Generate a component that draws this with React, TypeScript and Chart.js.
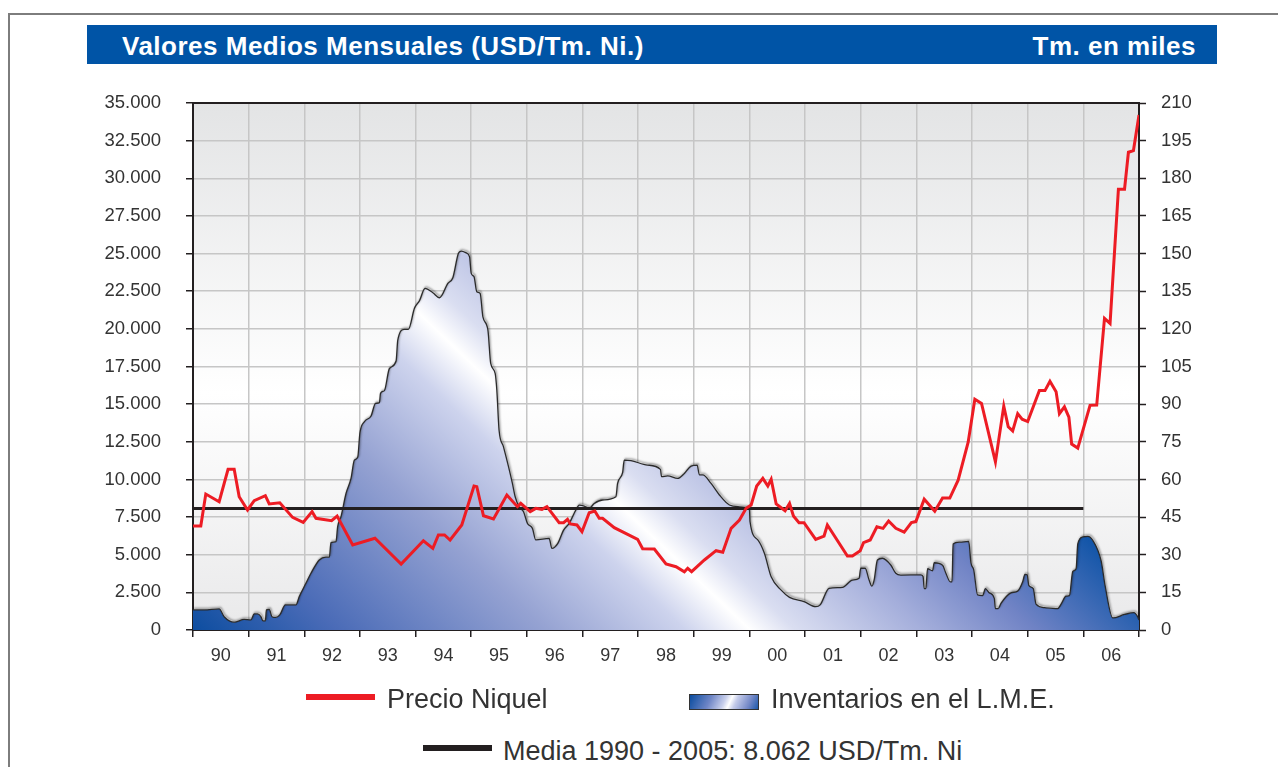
import React, { useEffect, useRef } from 'react';
import { Chart, registerables } from 'chart.js';

Chart.register(...registerables);

// ---------- DATA ----------
const priceYears = [
  1990.0, 1990.14, 1990.23, 1990.47, 1990.63, 1990.74, 1990.83, 1990.98, 1991.1, 1991.3, 1991.37, 1991.56,
  1991.79, 1991.98, 1992.14, 1992.21, 1992.49, 1992.59, 1992.87, 1993.27, 1993.74, 1994.14, 1994.31, 1994.41,
  1994.52, 1994.62, 1994.83, 1995.05, 1995.1, 1995.22, 1995.4, 1995.64, 1995.83, 1995.89, 1996.06, 1996.16,
  1996.27, 1996.36, 1996.58, 1996.66, 1996.73, 1996.78, 1996.9, 1996.99, 1997.12, 1997.22, 1997.3, 1997.36,
  1997.57, 1997.99, 1998.08, 1998.29, 1998.5, 1998.68, 1998.83, 1998.89, 1998.96, 1999.19, 1999.4, 1999.52,
  1999.67, 1999.82, 1999.94, 2000.03, 2000.13, 2000.24, 2000.33, 2000.39, 2000.48, 2000.64, 2000.72, 2000.79,
  2000.89, 2000.98, 2001.19, 2001.34, 2001.4, 2001.76, 2001.85, 2001.99, 2002.05, 2002.17, 2002.29, 2002.4,
  2002.5, 2002.63, 2002.78, 2002.91, 2002.99, 2003.14, 2003.33, 2003.47, 2003.6, 2003.75, 2003.93, 2004.05,
  2004.17, 2004.42, 2004.57, 2004.65, 2004.73, 2004.82, 2004.9, 2005.0, 2005.21, 2005.31, 2005.4, 2005.51,
  2005.57, 2005.66, 2005.74, 2005.79, 2005.9, 2006.12, 2006.24, 2006.38, 2006.48, 2006.63, 2006.74, 2006.81,
  2006.9, 2007.0,
];
const priceValues = [
  6900, 6900, 9030, 8520, 10670, 10670, 8850, 7970, 8590, 8920, 8370, 8450,
  7480, 7150, 7860, 7420, 7260, 7570, 5645, 6090, 4383, 5930, 5425, 6310,
  6310, 5977, 6973, 9563, 9520, 7590, 7370, 8965, 8190, 8410, 7860, 8080,
  8015, 8190, 7126, 7126, 7350, 7040, 6973, 6530, 7790, 7900, 7418, 7418,
  6794, 6023, 5400, 5380, 4383, 4205, 3870, 4097, 3870, 4650, 5268, 5160,
  6750, 7300, 8080, 8300, 9563, 10070, 9563, 10007, 8370, 7920, 8410, 7570,
  7126, 7126, 6023, 6240, 6973, 4914, 4914, 5268, 5800, 5977, 6860, 6750,
  7240, 6750, 6500, 7140, 7200, 8690, 7890, 8760, 8760, 9950, 12470, 15330,
  15050, 11160, 14870, 13500, 13220, 14370, 14000, 13840, 15900, 15900, 16520, 15830,
  14370, 14820, 14140, 12350, 12080, 14920, 14940, 20700, 20360, 29280, 29280, 31730,
  31840, 34200,
];

const stockYears = [
  1990.0, 1990.2, 1990.47, 1990.56, 1990.74, 1990.92, 1991.04, 1991.1, 1991.16, 1991.22, 1991.26, 1991.3,
  1991.32, 1991.37, 1991.42, 1991.49, 1991.56, 1991.66, 1991.85, 1991.91, 1992.03, 1992.12, 1992.27, 1992.39,
  1992.45, 1992.48, 1992.57, 1992.6, 1992.66, 1992.75, 1992.84, 1992.9, 1992.96, 1993.0, 1993.08, 1993.2,
  1993.28, 1993.35, 1993.37, 1993.44, 1993.53, 1993.65, 1993.68, 1993.8, 1993.87, 1993.98, 1994.07, 1994.17,
  1994.31, 1994.43, 1994.58, 1994.67, 1994.77, 1994.82, 1994.91, 1994.97, 1995.0, 1995.05, 1995.1, 1995.16,
  1995.21, 1995.3, 1995.35, 1995.43, 1995.46, 1995.5, 1995.58, 1995.67, 1995.74, 1995.79, 1995.86, 1995.94,
  1996.01, 1996.1, 1996.16, 1996.4, 1996.45, 1996.55, 1996.66, 1996.76, 1996.88, 1996.94, 1997.03, 1997.12,
  1997.21, 1997.36, 1997.6, 1997.63, 1997.72, 1997.75, 1997.87, 1998.17, 1998.4, 1998.42, 1998.53, 1998.71,
  1998.83, 1998.95, 1999.06, 1999.1, 1999.16, 1999.31, 1999.46, 1999.64, 1999.82, 1999.94, 2000.0, 2000.01,
  2000.15, 2000.27, 2000.39, 2000.57, 2000.72, 2000.98, 2001.19, 2001.27, 2001.43, 2001.67, 2001.85, 2001.97,
  2002.0, 2002.08, 2002.15, 2002.2, 2002.24, 2002.3, 2002.39, 2002.54, 2002.63, 2002.72, 2003.08, 2003.12,
  2003.14, 2003.17, 2003.2, 2003.29, 2003.32, 2003.47, 2003.53, 2003.61, 2003.64, 2003.66, 2003.77, 2003.94,
  2003.98, 2004.03, 2004.1, 2004.19, 2004.24, 2004.31, 2004.4, 2004.42, 2004.47, 2004.52, 2004.7, 2004.82,
  2004.91, 2004.95, 2004.99, 2005.02, 2005.1, 2005.15, 2005.3, 2005.54, 2005.6, 2005.69, 2005.75, 2005.81,
  2005.87, 2005.9, 2005.99, 2006.08, 2006.17, 2006.32, 2006.39, 2006.53, 2006.74, 2006.91, 2006.97, 2007.0,
];
const stockValues = [
  8.0, 8.0, 8.4, 5.3, 3.1, 4.2, 4.0, 6.4, 6.4, 5.3, 3.6, 3.6,
  8.0, 8.2, 5.3, 5.0, 6.0, 10.0, 10.0, 13.3, 18.6, 22.6, 27.9, 29.0,
  29.0, 34.8, 35.2, 41.2, 45.2, 54.4, 60.4, 67.7, 68.8, 78.6, 83.0, 85.3,
  90.3, 90.6, 94.3, 95.4, 104.2, 107.2, 115.5, 119.8, 119.8, 128.2, 131.2, 136.1,
  134.4, 132.4, 138.1, 140.4, 150.1, 151.0, 150.3, 148.7, 142.1, 140.8, 134.8, 134.1,
  124.8, 119.5, 106.2, 102.3, 95.6, 79.7, 73.0, 65.1, 58.4, 53.1, 49.1, 47.1,
  42.5, 40.5, 35.9, 36.5, 32.5, 34.3, 39.8, 42.5, 47.8, 49.8, 49.4, 48.5,
  50.4, 51.8, 53.1, 58.4, 62.7, 67.7, 67.5, 65.7, 64.0, 61.1, 61.4, 60.4,
  62.4, 65.3, 65.7, 61.8, 61.8, 58.4, 53.8, 49.8, 49.1, 48.9, 47.8, 43.2,
  35.9, 30.5, 21.2, 15.9, 13.0, 11.3, 9.3, 10.0, 16.6, 17.0, 19.9, 20.6,
  24.6, 24.6, 19.9, 17.5, 19.9, 27.9, 28.6, 25.9, 22.6, 21.9, 22.0, 21.3,
  16.5, 16.5, 24.4, 23.6, 26.8, 25.8, 22.6, 19.2, 19.2, 34.3, 35.0, 35.3,
  26.8, 24.0, 14.0, 13.7, 16.5, 14.8, 12.6, 8.5, 8.5, 10.6, 14.8, 15.5,
  19.2, 22.2, 22.0, 17.8, 16.5, 10.3, 8.9, 8.5, 10.3, 13.5, 13.7, 23.3,
  24.4, 34.3, 37.1, 37.3, 35.7, 27.5, 17.8, 4.8, 6.2, 6.9, 5.5, 4.0,
];

const meanYears = [1990, 2006];
const meanValue = 8062;

const yearBoundaries = [
  1990, 1991, 1992, 1993, 1994, 1995, 1996, 1997, 1998, 1999, 2000, 2001, 2002, 2003, 2004, 2005, 2006, 2007,
];
const yearLabels = ['90', '91', '92', '93', '94', '95', '96', '97', '98', '99', '00', '01', '02', '03', '04', '05', '06'];
const yearLabelPositions = [
  1990.5, 1991.5, 1992.5, 1993.5, 1994.5, 1995.5, 1996.5, 1997.5, 1998.5, 1999.5, 2000.5, 2001.5, 2002.5,
  2003.5, 2004.5, 2005.5, 2006.5,
];

const titleText = 'Valores Medios Mensuales (USD/Tm. Ni.)';
const unitText = 'Tm. en miles';
const legendPrice = 'Precio Niquel';
const legendStock = 'Inventarios en el L.M.E.';
const legendMean = 'Media 1990 - 2005: 8.062 USD/Tm. Ni';

// ---------- STYLE ----------
const FONT = "'Liberation Sans', Arial, Helvetica, sans-serif";
const RED = '#ed1c24';
const DARK = '#231f20';
const GRID = '#c6c6c6';

const fmtThousands = (v: number) => {
  const s = Math.round(v).toString();
  return s.replace(/\B(?=(\d{3})+(?!\d))/g, '.');
};

const zeroPad = (s: any) => {
  s.paddingTop = 0;
  s.paddingBottom = 0;
  s.paddingLeft = 0;
  s.paddingRight = 0;
};

const plotPlugin = {
  id: 'plotDecor',
  beforeDraw(chart: any) {
    const { ctx, chartArea: a } = chart;
    if (!a) return;
    const g = ctx.createLinearGradient(0, a.top, 0, a.bottom);
    g.addColorStop(0, '#e3e4e5');
    g.addColorStop(0.55, '#ffffff');
    g.addColorStop(1, '#e9e9ea');
    ctx.save();
    ctx.fillStyle = g;
    ctx.fillRect(a.left, a.top, a.width, a.height);
    ctx.restore();
  },
  beforeDatasetDraw(chart: any, args: any) {
    if (args.index !== 2) return;
    const ctx = chart.ctx;
    ctx.save();
    ctx.shadowColor = 'rgba(0,0,0,0.45)';
    ctx.shadowBlur = 2;
    ctx.shadowOffsetX = 1;
    ctx.shadowOffsetY = -1.5;
  },
  afterDatasetDraw(chart: any, args: any) {
    if (args.index !== 2) return;
    chart.ctx.restore();
  },
  afterDraw(chart: any) {
    const { ctx, chartArea: a } = chart;
    if (!a) return;
    ctx.save();
    ctx.strokeStyle = DARK;
    ctx.lineWidth = 2;
    ctx.beginPath();
    ctx.moveTo(a.left, a.top);
    ctx.lineTo(a.right, a.top);
    ctx.stroke();
    ctx.restore();
  },
};

const areaFill = (c: any) => {
  const chart = c.chart;
  const a = chart.chartArea;
  if (!a) return 'rgba(90,115,190,0.9)';
  const w = a.right - a.left;
  const h = a.bottom - a.top;
  const g = chart.ctx.createLinearGradient(a.left - 0.042 * w, a.top + 0.941 * h, a.left + 0.462 * w, a.top - 0.006 * h);
  g.addColorStop(0, '#0a4c9f');
  g.addColorStop(0.15, '#4a6bb7');
  g.addColorStop(0.36, '#95a2d2');
  g.addColorStop(0.5, '#cdd3ed');
  g.addColorStop(0.565, '#ffffff');
  g.addColorStop(0.61, '#dadef1');
  g.addColorStop(0.74, '#a4aedb');
  g.addColorStop(0.85, '#7083c5');
  g.addColorStop(1, '#1255a8');
  return g;
};

function NickelChart() {
  const ref = useRef<HTMLCanvasElement | null>(null);
  useEffect(() => {
    if (!ref.current) return;
    const priceData = priceYears.map((x, i) => ({ x, y: priceValues[i] }));
    const stockData = stockYears.map((x, i) => ({ x, y: stockValues[i] }));
    const meanData = meanYears.map((x) => ({ x, y: meanValue }));
    const xTicks = [...yearBoundaries, ...yearLabelPositions].sort((p, q) => p - q);

    const chart = new Chart(ref.current, {
      type: 'line',
      data: {
        datasets: [
          {
            label: legendPrice,
            data: priceData,
            yAxisID: 'y',
            borderColor: RED,
            borderWidth: 3,
            pointRadius: 0,
            tension: 0,
            fill: false,
          },
          {
            label: legendMean,
            data: meanData,
            yAxisID: 'y',
            borderColor: DARK,
            borderWidth: 3,
            pointRadius: 0,
            fill: false,
          },
          {
            label: legendStock,
            data: stockData,
            yAxisID: 'y1',
            borderColor: '#2b2b2b',
            borderWidth: 1.3,
            pointRadius: 0,
            cubicInterpolationMode: 'monotone',
            fill: 'origin',
            backgroundColor: areaFill,
          },
        ],
      },
      options: {
        animation: false,
        responsive: false,
        events: [],
        layout: { padding: { top: 23, left: 0, right: 0, bottom: 0 } },
        plugins: {
          legend: { display: false },
          title: { display: false },
          tooltip: { enabled: false },
        },
        scales: {
          x: {
            type: 'linear',
            position: 'bottom',
            min: 1990,
            max: 2007,
            afterBuildTicks: (s: any) => {
              s.ticks = xTicks.map((v) => ({ value: v }));
            },
            afterFit: (s: any) => {
              s.height = 60;
              zeroPad(s);
            },
            grid: {
              color: (c: any) => (c.tick && Number.isInteger(c.tick.value) ? GRID : 'rgba(0,0,0,0)'),
              tickColor: (c: any) => (c.tick && Number.isInteger(c.tick.value) ? DARK : 'rgba(0,0,0,0)'),
              lineWidth: 1.5,
              tickLength: 7,
              tickWidth: 1.5,
            },
            border: { display: true, color: DARK, width: 2 },
            ticks: {
              autoSkip: false,
              maxRotation: 0,
              minRotation: 0,
              padding: 8,
              color: '#333',
              font: { family: FONT, size: 18 },
              callback: (v: any) => {
                const i = yearLabelPositions.indexOf(Number(v));
                return i >= 0 ? yearLabels[i] : '';
              },
            },
          },
          y: {
            type: 'linear',
            position: 'left',
            min: 0,
            max: 35000,
            afterFit: (s: any) => {
              s.width = 193;
              zeroPad(s);
            },
            grid: { color: GRID, lineWidth: 1.5, tickColor: DARK, tickLength: 7, tickWidth: 1.5 },
            border: { display: true, color: DARK, width: 2 },
            ticks: {
              stepSize: 2500,
              padding: 25,
              color: '#333',
              font: { family: FONT, size: 18.5 },
              callback: (v: any) => fmtThousands(Number(v)),
            },
          },
          y1: {
            type: 'linear',
            position: 'right',
            min: 0,
            max: 210,
            afterFit: (s: any) => {
              s.width = 139;
              zeroPad(s);
            },
            grid: { drawOnChartArea: false, color: DARK, tickColor: DARK, tickLength: 7, tickWidth: 1.5 },
            border: { display: true, color: DARK, width: 2 },
            ticks: {
              stepSize: 15,
              padding: 15,
              color: '#333',
              font: { family: FONT, size: 18.5 },
            },
          },
        },
      },
      plugins: [plotPlugin],
    } as any);
    return () => chart.destroy();
  }, []);
  return (
    <canvas
      ref={ref}
      width={1278}
      height={610}
      style={{ position: 'absolute', left: 0, top: 80, width: 1278, height: 610 }}
    />
  );
}

export default function App() {
  const legendText: React.CSSProperties = {
    position: 'absolute',
    fontFamily: FONT,
    fontSize: 27,
    lineHeight: '30px',
    color: '#333',
    whiteSpace: 'nowrap',
  };
  return (
    <div
      style={{
        position: 'absolute',
        left: 0,
        top: 0,
        width: 1278,
        height: 767,
        overflow: 'hidden',
        background: '#ffffff',
        fontFamily: FONT,
      }}
    >
      <div
        style={{
          position: 'absolute',
          left: 8,
          top: 13,
          width: 1400,
          height: 900,
          borderTop: '2px solid #7d7d7d',
          borderLeft: '2px solid #7d7d7d',
        }}
      />
      <div
        style={{
          position: 'absolute',
          left: 87,
          top: 25,
          width: 1130,
          height: 39,
          background: '#0054a6',
        }}
      />
      <div
        style={{
          position: 'absolute',
          left: 122,
          top: 31,
          color: '#fff',
          fontWeight: 'bold',
          fontSize: 26,
          lineHeight: '30px',
          letterSpacing: '0.5px',
          whiteSpace: 'nowrap',
        }}
      >
        {titleText}
      </div>
      <div
        style={{
          position: 'absolute',
          right: 82,
          top: 31,
          color: '#fff',
          fontWeight: 'bold',
          fontSize: 26,
          lineHeight: '30px',
          letterSpacing: '0.5px',
          whiteSpace: 'nowrap',
        }}
      >
        {unitText}
      </div>
      <NickelChart />
      {/* Legend */}
      <div style={{ position: 'absolute', left: 306, top: 694, width: 69, height: 6, background: RED }} />
      <div style={{ ...legendText, left: 387, top: 684 }}>{legendPrice}</div>
      <div
        style={{
          position: 'absolute',
          left: 689,
          top: 694,
          width: 68,
          height: 14,
          border: '1px solid #333',
          background:
            'linear-gradient(115deg, #0a4c9f 0%, #6f86c6 30%, #c9d0ec 50%, #ffffff 58%, #c4cbea 66%, #7388c7 85%, #1a57a9 100%)',
        }}
      />
      <div style={{ ...legendText, left: 771, top: 684 }}>{legendStock}</div>
      <div style={{ position: 'absolute', left: 423, top: 745, width: 69, height: 6, background: DARK }} />
      <div style={{ ...legendText, left: 503, top: 736 }}>{legendMean}</div>
    </div>
  );
}
